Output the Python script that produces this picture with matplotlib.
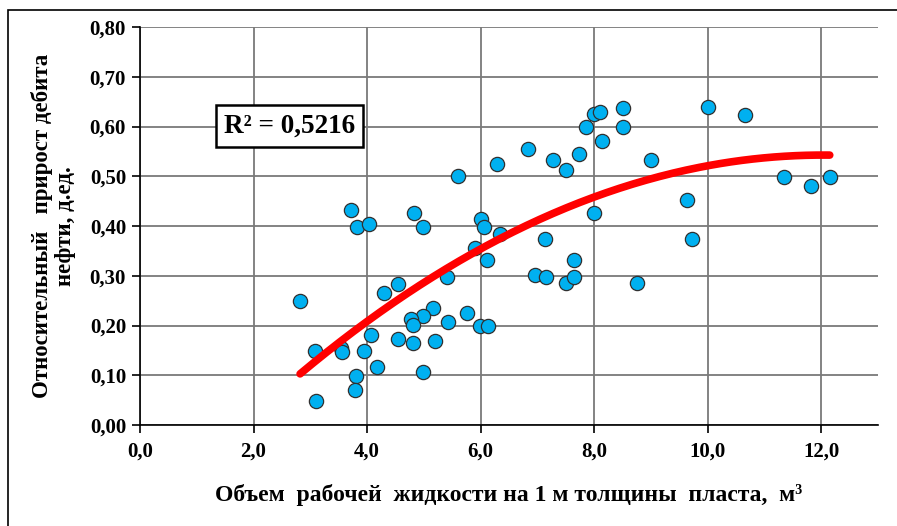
import numpy as np
import matplotlib
matplotlib.use('Agg')
import matplotlib.pyplot as plt
from matplotlib.patches import Rectangle

plt.rcParams['font.family'] = ['Liberation Serif', 'DejaVu Serif']
plt.rcParams['font.weight'] = 'bold'

# scatter data
vol = [6.29, 5.60, 3.71, 3.82, 4.04, 4.82, 4.99, 6.00, 6.06, 6.35,
       5.90, 6.11, 5.40, 4.54, 4.30, 2.82, 5.16, 4.99, 4.78, 4.81,
       5.42, 5.76, 5.99, 6.13, 4.07, 4.54, 4.81, 5.20, 3.54, 3.56,
       3.09, 3.95, 4.17, 4.99, 3.81, 3.78, 3.10, 6.84, 7.28, 7.50,
       7.74, 7.86, 7.99, 8.10, 8.13, 8.50, 8.50, 9.00, 10.00, 9.64,
       9.72, 8.00, 7.14, 7.64, 6.95, 7.15, 7.50, 7.65, 8.76, 10.66,
       11.34, 11.82, 12.15]
gain = [0.525, 0.500, 0.433, 0.398, 0.404, 0.427, 0.398, 0.415, 0.398, 0.383,
        0.356, 0.331, 0.298, 0.284, 0.266, 0.249, 0.235, 0.219, 0.213, 0.202,
        0.207, 0.225, 0.198, 0.198, 0.180, 0.173, 0.165, 0.168, 0.155, 0.146,
        0.148, 0.148, 0.116, 0.107, 0.098, 0.070, 0.048, 0.555, 0.532, 0.512,
        0.544, 0.598, 0.625, 0.629, 0.570, 0.637, 0.598, 0.533, 0.639, 0.453,
        0.374, 0.426, 0.374, 0.331, 0.301, 0.298, 0.285, 0.298, 0.285, 0.624,
        0.499, 0.480, 0.499]

xticks = [0, 2, 4, 6, 8, 10, 12]
yticks = [0.0, 0.1, 0.2, 0.3, 0.4, 0.5, 0.6, 0.7, 0.8]

fig = plt.figure(figsize=(8.97, 5.26), dpi=100)
ax = fig.add_axes([140/897, 1-425/526, 738/897, 398/526])

ax.scatter(vol, gain, s=105, color='#00b0f0', edgecolors='#303030',
           linewidths=0.9, zorder=3)

# 2nd order polynomial trendline (as in the original)
coef = np.polyfit(vol, gain, 2)
xs = np.linspace(min(vol), max(vol), 200)
ax.plot(xs, np.polyval(coef, xs), color='red', linewidth=5.5,
        solid_capstyle='round', zorder=4)

ax.set_xlim(0, 13)
ax.set_ylim(0, 0.8)
ax.set_xticks(xticks)
ax.set_yticks(yticks)
ax.set_xticklabels([f"{v:.1f}".replace('.', ',') for v in xticks])
ax.set_yticklabels([f"{v:.2f}".replace('.', ',') for v in yticks])
ax.tick_params(labelsize=15, length=6, width=1.2, direction='out')
ax.tick_params(axis='y', pad=4)
ax.tick_params(axis='x', pad=6)
for lab in ax.get_xticklabels() + ax.get_yticklabels():
    lab.set_fontweight('bold')

ax.grid(True, color='#7a7a7a', linewidth=1.3)
ax.set_axisbelow(True)
ax.spines['top'].set_visible(False)
ax.spines['right'].set_visible(False)
ax.spines['left'].set_linewidth(1.2)
ax.spines['bottom'].set_linewidth(1.2)

ax.set_xlabel("Объем  рабочей  жидкости на 1 м толщины  пласта,  м³",
              fontsize=17, fontweight='bold', labelpad=16)
ax.set_ylabel("Относительный   прирост дебита\nнефти, д.ед.",
              fontsize=16.5, fontweight='bold', labelpad=10, linespacing=1.1)

ax.text(2.63, 0.601, "R² = 0,5216", fontsize=19.5, fontweight='bold',
        ha='center', va='center', zorder=5,
        bbox=dict(boxstyle='square,pad=0.3', facecolor='white',
                  edgecolor='black', linewidth=1.8))

# chart area border (only left and top visible in the crop)
fig.patches.append(Rectangle((8/897, -0.1), 1.2, 1-10/526+0.1,
                             transform=fig.transFigure, fill=False,
                             edgecolor='black', linewidth=1.2))

fig.savefig("out.png", dpi=100)
